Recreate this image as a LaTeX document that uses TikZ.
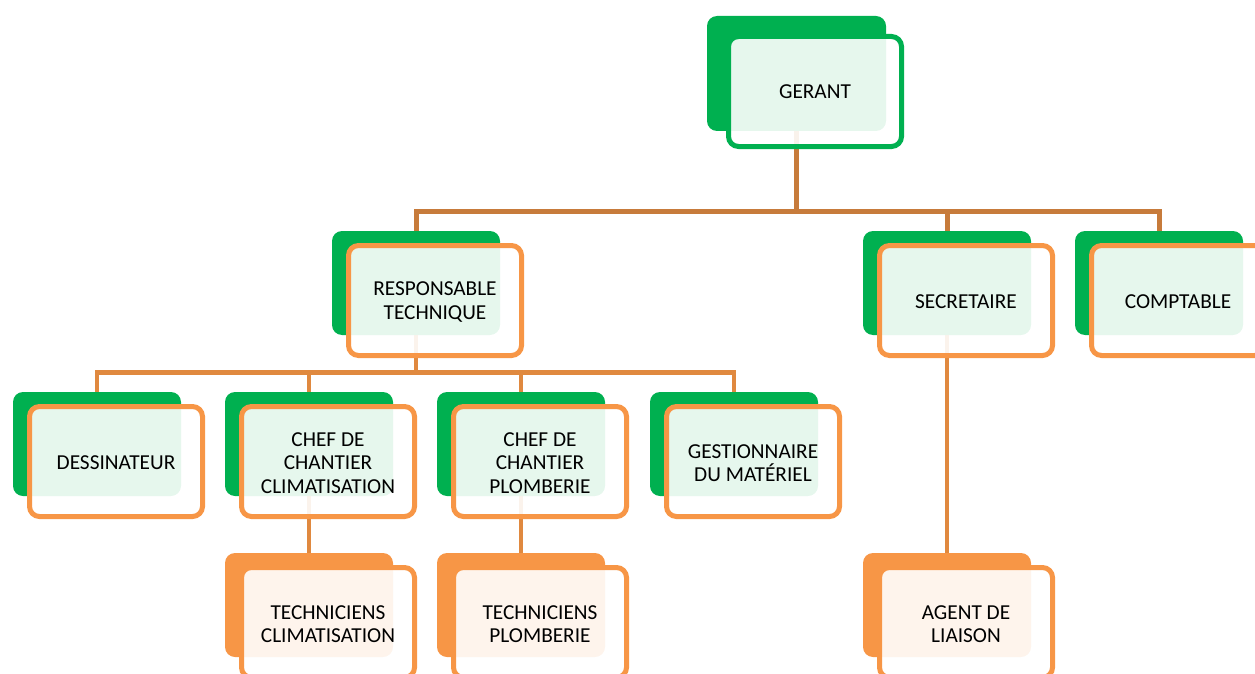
\documentclass[tikz,border=0pt]{standalone}
\usepackage{fontspec}
\setmainfont{Carlito}
\usetikzlibrary{calc}
\definecolor{grn}{HTML}{00B050}
\definecolor{org}{HTML}{F79646}
\definecolor{lineA}{HTML}{C77B3B}
\definecolor{lineB}{HTML}{E0893F}
\pgfdeclarelayer{bg}
\pgfsetlayers{bg,main}
\tikzset{
  backbox/.style={inner sep=0pt, outer sep=0pt, rounded corners=10pt, minimum width=168pt, minimum height=104pt, anchor=north west},
  frontbox/.style={inner sep=0pt, outer sep=0pt, rounded corners=10pt, line width=5pt, fill=white, fill opacity=0.9, draw opacity=1,
     minimum width=173pt, minimum height=110pt, anchor=north west},
  boxtext/.style={inner sep=0pt, align=center, text=black, font=\fontsize{21.3}{23.5}\selectfont},
  connA/.style={draw=lineA, line width=5pt},
  connB/.style={draw=lineB, line width=4.5pt},
}
\newcommand\orgbox[6]{%
  \node[backbox, fill=#4] (#1B) at (#2,#3) {};
  \node[frontbox, draw=#5] (#1) at ($(#1B.north west)+(16.5,14.5)$) {};
  \node[boxtext] (#1T) at ($(#1.center)+(0,1.5)$) {#6};
}
\begin{document}
\begin{tikzpicture}[x=1pt,y=-1pt]
\useasboundingbox (0,0) rectangle (1255,674);
\clip (0,0) rectangle (1255,674);
% GERANT
\node[backbox, fill=grn, minimum width=179pt, minimum height=115pt] (gerantB) at (707,16) {};
\node[frontbox, draw=grn, minimum height=110pt] (gerant) at ($(gerantB.north west)+(21.5,20.5)$) {};
\node[boxtext] (gerantT) at ($(gerant.center)+(0,0)$) {GERANT};
\orgbox{resp}{332}{231}{grn}{org}{RESPONSABLE\\TECHNIQUE}
\orgbox{sec}{863}{231}{grn}{org}{SECRETAIRE}
\orgbox{comp}{1075}{231}{grn}{org}{COMPTABLE}
\orgbox{dess}{13}{392}{grn}{org}{DESSINATEUR}
\orgbox{clim}{225}{392}{grn}{org}{CHEF DE\\CHANTIER\\CLIMATISATION}
\orgbox{plomb}{437}{392}{grn}{org}{CHEF DE\\CHANTIER\\PLOMBERIE}
\orgbox{gest}{650}{392}{grn}{org}{GESTIONNAIRE\\DU MATÉRIEL}
\orgbox{tclim}{225}{553}{org}{org}{TECHNICIENS\\CLIMATISATION}
\orgbox{tplomb}{437}{553}{org}{org}{TECHNICIENS\\PLOMBERIE}
\orgbox{agent}{863}{553}{org}{org}{AGENT DE\\LIAISON}
\coordinate (bus1) at (0,211.5);
\coordinate (bus2) at (0,372.5);
\begin{pgfonlayer}{bg}
\draw[connA] (gerantB.center) -- (gerantB.center |- bus1);
\draw[connA] (respB.center) -- (respB.center |- bus1) -- (compB.center |- bus1) -- (compB.center);
\draw[connA] (secB.center |- bus1) -- (secB.center);
\draw[connB] (respB.center) -- (respB.center |- bus2);
\draw[connB] (dessB.center) -- (dessB.center |- bus2) -- (gestB.center |- bus2) -- (gestB.center);
\draw[connB] (climB.center |- bus2) -- (climB.center);
\draw[connB] (plombB.center |- bus2) -- (plombB.center);
\draw[connB] (climB.center) -- (tclimB.center);
\draw[connB] (plombB.center) -- (tplombB.center);
\draw[connB] (secB.center) -- (agentB.center);
\end{pgfonlayer}
\end{tikzpicture}
\end{document}
